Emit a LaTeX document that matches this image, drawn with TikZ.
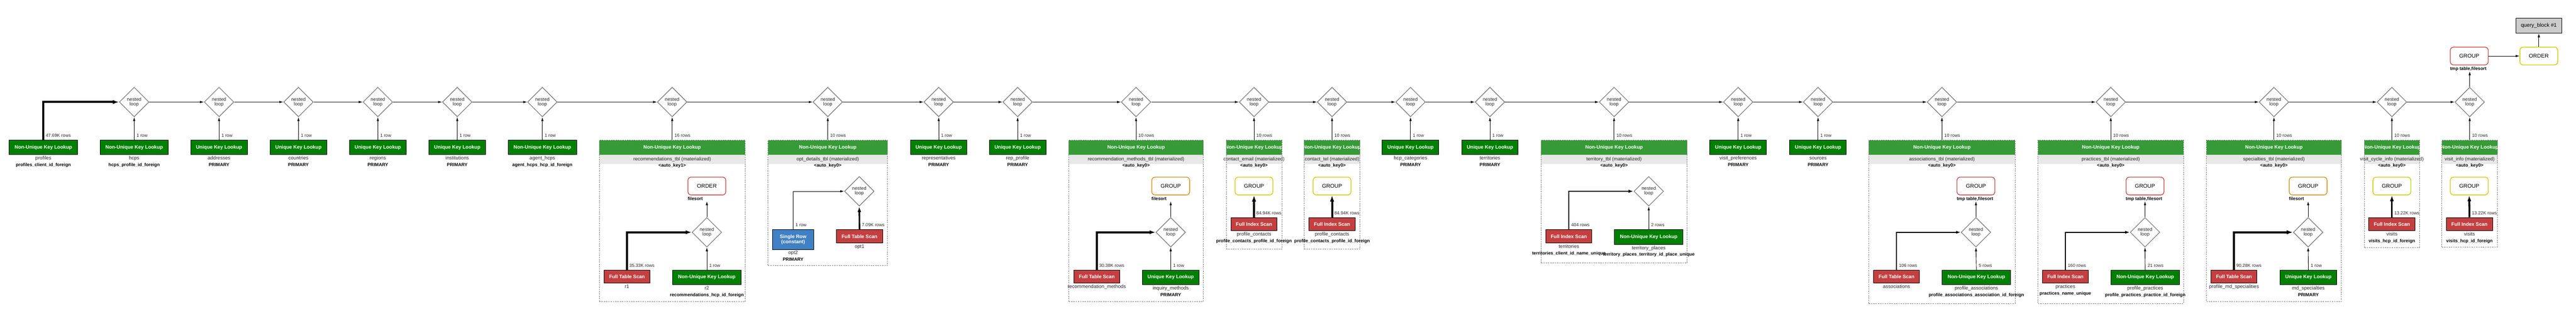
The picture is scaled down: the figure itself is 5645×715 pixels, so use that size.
\documentclass[tikz,border=0pt]{standalone}
\usepackage{fontspec}
\setmainfont{Liberation Sans}
\usetikzlibrary{positioning,%
                shapes.geometric,%
                arrows.meta}
\definecolor{okgreen}{RGB}{0,128,0}
\definecolor{hdrgreen}{RGB}{54,154,54}
\definecolor{badred}{RGB}{196,64,64}
\definecolor{constblue}{RGB}{64,128,196}
\definecolor{bandgray}{RGB}{232,232,232}
\definecolor{qbgray}{RGB}{204,204,204}
\definecolor{nlgray}{RGB}{128,128,128}
\definecolor{grpred}{RGB}{204,68,68}
\definecolor{grporange}{RGB}{214,140,20}
\definecolor{grpyellow}{RGB}{204,204,0}

\begin{document}
\begin{tikzpicture}[x=1pt,y=-1pt,
    nl/.style={diamond,aspect=1,draw=nlgray,line width=1.5pt,fill=white,
      minimum width=65pt,minimum height=65pt,inner sep=0pt,align=center,
      text=black!85,font=\fontsize{10.5}{10}\selectfont},
    op/.style={draw=black,line width=1pt,text=white,inner sep=0pt,
      minimum height=32pt,font=\fontsize{10.8}{12}\selectfont\bfseries},
    ukl/.style={op,fill=okgreen,minimum width=124pt},
    nukl/.style={op,fill=okgreen,minimum width=150pt},
    scan/.style={op,fill=badred,minimum width=101pt,minimum height=29pt},
    srow/.style={op,fill=constblue,minimum width=90pt,minimum height=43pt,align=center},
    grp/.style={draw=#1,line width=1.5pt,rounded corners=7pt,fill=white,
      minimum width=83pt,minimum height=39pt,inner sep=0pt,font=\fontsize{12}{12}\selectfont},
    qb/.style={draw=black,fill=qbgray,line width=1pt,minimum width=101pt,
      minimum height=33pt,inner sep=0pt,font=\fontsize{11.6}{12}\selectfont},
    hdr/.style={fill=hdrgreen,minimum height=32pt,inner sep=0pt,text=white,
      font=\fontsize{10.8}{12}\selectfont\bfseries},
    band/.style={fill=bandgray,minimum height=20pt,inner sep=0pt,text=black!85,
      font=\fontsize{10.7}{12}\selectfont},
    blk/.style={draw=black!50,dash pattern=on 3pt off 2pt,line width=0.8pt,inner sep=0pt},
    tname/.style={inner sep=0pt,text height=7.5pt,text depth=2.5pt,text=black!85,
      font=\fontsize{10.8}{12}\selectfont},
    kname/.style={inner sep=0pt,text height=7.5pt,text depth=2.5pt,
      font=\fontsize{9.9}{12}\selectfont\bfseries},
    rows/.style={anchor=south west,inner sep=0pt,text height=7pt,text depth=2pt,
      text=black!85,font=\fontsize{9.9}{12}\selectfont},
    arr/.style={-{Latex[length=7pt 1.5,width=4pt 1.2]},line width=1pt}]
\useasboundingbox (0,0) rectangle (5645,715);

\node[nl] (d1) at (294,224) {nested\\loop};
\node[nl] (d2) at (480,224) {nested\\loop};
\node[nl] (d3) at (654,224) {nested\\loop};
\node[nl] (d4) at (828,224) {nested\\loop};
\node[nl] (d5) at (1002,224) {nested\\loop};
\node[nl] (d6) at (1188.5,224) {nested\\loop};
\node[nl] (d7) at (1473,224) {nested\\loop};
\node[nl] (d8) at (1814,224) {nested\\loop};
\node[nl] (d9) at (2057,224) {nested\\loop};
\node[nl] (d10) at (2230,224) {nested\\loop};
\node[nl] (d11) at (2489.5,224) {nested\\loop};
\node[nl] (d12) at (2748,224) {nested\\loop};
\node[nl] (d13) at (2919,224) {nested\\loop};
\node[nl] (d14) at (3091,224) {nested\\loop};
\node[nl] (d15) at (3265,224) {nested\\loop};
\node[nl] (d16) at (3537,224) {nested\\loop};
\node[nl] (d17) at (3809,224) {nested\\loop};
\node[nl] (d18) at (3984,224) {nested\\loop};
\node[nl] (d19) at (4255.5,224) {nested\\loop};
\node[nl] (d20) at (4625.5,224) {nested\\loop};
\node[nl] (d21) at (4983,224) {nested\\loop};
\node[nl] (d22) at (5241.5,224) {nested\\loop};
\node[nl] (d23) at (5412,224) {nested\\loop};

\draw[arr] (d1.east) -- (d2.west);
\draw[arr] (d2.east) -- (d3.west);
\draw[arr] (d3.east) -- (d4.west);
\draw[arr] (d4.east) -- (d5.west);
\draw[arr] (d5.east) -- (d6.west);
\draw[arr] (d6.east) -- (d7.west);
\draw[arr] (d7.east) -- (d8.west);
\draw[arr] (d8.east) -- (d9.west);
\draw[arr] (d9.east) -- (d10.west);
\draw[arr] (d10.east) -- (d11.west);
\draw[arr] (d11.east) -- (d12.west);
\draw[arr] (d12.east) -- (d13.west);
\draw[arr] (d13.east) -- (d14.west);
\draw[arr] (d14.east) -- (d15.west);
\draw[arr] (d15.east) -- (d16.west);
\draw[arr] (d16.east) -- (d17.west);
\draw[arr] (d17.east) -- (d18.west);
\draw[arr] (d18.east) -- (d19.west);
\draw[arr] (d19.east) -- (d20.west);
\draw[arr] (d20.east) -- (d21.west);
\draw[arr] (d21.east) -- (d22.west);
\draw[arr] (d22.east) -- (d23.west);

\node[grp=grpred] (g0) at (5411,123) {GROUP};
\node[kname,anchor=north west] (g0L) at ([yshift=-3pt]g0.south west) {tmp table,filesort};
\node[grp=grpyellow] (o0) at (5563.5,123) {ORDER};
\node[qb] (qb) at (5563.5,56.5) {query\_block \#1};
\draw[arr] (d23.north) -- (d23.north |- g0L.south);
\draw[arr] (g0.east) -- (o0.west);
\draw[arr] (o0.north) -- (qb.south);

\node[nukl] (profiles) at (95,323.5) {Non-Unique Key Lookup};
\node[tname,below=3pt of profiles] (profilesT) {profiles};
\node[kname,below=4pt of profilesT] {profiles\_client\_id\_foreign};
\node[rows] at ([xshift=5pt,yshift=4pt]profiles.north) {47.69K rows};
\draw[arr,line width=4.5pt] (profiles.north) |- (d1.west);

\node[nukl] (hcps) at (294,323.5) {Non-Unique Key Lookup};
\node[tname,below=3pt of hcps] (hcpsT) {hcps};
\node[kname,below=4pt of hcpsT] {hcps\_profile\_id\_foreign};
\node[rows] at ([xshift=5pt,yshift=4pt]hcps.north) {1 row};
\draw[arr] (hcps.north) -- (d1.south);

\node[ukl] (addresses) at (480,323.5) {Unique Key Lookup};
\node[tname,below=3pt of addresses] (addressesT) {addresses};
\node[kname,below=4pt of addressesT] {PRIMARY};
\node[rows] at ([xshift=5pt,yshift=4pt]addresses.north) {1 row};
\draw[arr] (addresses.north) -- (d2.south);

\node[ukl] (countries) at (654,323.5) {Unique Key Lookup};
\node[tname,below=3pt of countries] (countriesT) {countries};
\node[kname,below=4pt of countriesT] {PRIMARY};
\node[rows] at ([xshift=5pt,yshift=4pt]countries.north) {1 row};
\draw[arr] (countries.north) -- (d3.south);

\node[ukl] (regions) at (828,323.5) {Unique Key Lookup};
\node[tname,below=3pt of regions] (regionsT) {regions};
\node[kname,below=4pt of regionsT] {PRIMARY};
\node[rows] at ([xshift=5pt,yshift=4pt]regions.north) {1 row};
\draw[arr] (regions.north) -- (d4.south);

\node[ukl] (institutions) at (1002,323.5) {Unique Key Lookup};
\node[tname,below=3pt of institutions] (institutionsT) {institutions};
\node[kname,below=4pt of institutionsT] {PRIMARY};
\node[rows] at ([xshift=5pt,yshift=4pt]institutions.north) {1 row};
\draw[arr] (institutions.north) -- (d5.south);

\node[nukl] (agenthcps) at (1188.5,323.5) {Non-Unique Key Lookup};
\node[tname,below=3pt of agenthcps] (agenthcpsT) {agent\_hcps};
\node[kname,below=4pt of agenthcpsT] {agent\_hcps\_hcp\_id\_foreign};
\node[rows] at ([xshift=5pt,yshift=4pt]agenthcps.north) {1 row};
\draw[arr] (agenthcps.north) -- (d6.south);

\node[hdr,minimum width=320pt] (h7) at (1473,324) {Non-Unique Key Lookup};
\node[band,minimum width=320pt] (m7) at (1473,350) {recommendations\_tbl (materialized)};
\node[kname] at (1473,364) {<auto\_key1>};
\node[blk,minimum width=320pt,minimum height=354pt] (b7) at (1473,485) {};
\node[grp=grpred] (g7) at (1549,408.5) {ORDER};
\node[kname,anchor=north west] (g7L) at ([yshift=-3pt]g7.south west) {filesort};
\node[nl] (n7) at (1549,510) {nested\\loop};
\node[scan] (r1) at (1374,607.5) {Full Table Scan};
\node[tname,below=3pt of r1] {r1};
\node[nukl] (r2) at (1549,609) {Non-Unique Key Lookup};
\node[tname,below=3pt of r2] (r2T) {r2};
\node[kname,below=4pt of r2T] {recommendations\_hcp\_id\_foreign};
\node[rows] at ([xshift=5pt,yshift=4pt]r1.north) {35.33K rows};
\node[rows] at ([xshift=5pt,yshift=4pt]r2.north) {1 row};
\node[rows] at ([xshift=5pt,yshift=4pt]b7.north) {16 rows};
\draw[arr,line width=4pt] (r1.north) |- (n7.west);
\draw[arr] (r2.north) -- (n7.south);
\draw[arr] (n7.north) -- (n7.north |- g7L.south);
\draw[arr] (b7.north) -- (d7.south);

\node[hdr,minimum width=262pt] (h8) at (1814,324) {Non-Unique Key Lookup};
\node[band,minimum width=262pt] (m8) at (1814,350) {opt\_details\_tbl (materialized)};
\node[kname] at (1814,364) {<auto\_key0>};
\node[blk,minimum width=262pt,minimum height=275pt] (b8) at (1814,445.5) {};
\node[nl] (n8) at (1883,420) {nested\\loop};
\node[srow] (opt2) at (1738,526) {Single Row\\(constant)};
\node[tname,below=3pt of opt2] (opt2T) {opt2};
\node[kname,below=4pt of opt2T] {PRIMARY};
\node[scan] (opt1) at (1883.5,519) {Full Table Scan};
\node[tname,below=3pt of opt1] {opt1};
\node[rows] at ([xshift=5pt,yshift=4pt]opt2.north) {1 row};
\node[rows] at ([xshift=5pt,yshift=4pt]opt1.north) {7.09K rows};
\node[rows] at ([xshift=5pt,yshift=4pt]b8.north) {10 rows};
\draw[arr] (opt2.north) |- (n8.west);
\draw[arr,line width=3.5pt] (opt1.north) -- (n8.south);
\draw[arr] (b8.north) -- (d8.south);

\node[ukl] (reps) at (2057,323.5) {Unique Key Lookup};
\node[tname,below=3pt of reps] (repsT) {representatives};
\node[kname,below=4pt of repsT] {PRIMARY};
\node[rows] at ([xshift=5pt,yshift=4pt]reps.north) {1 row};
\draw[arr] (reps.north) -- (d9.south);

\node[ukl] (repprofile) at (2230,323.5) {Unique Key Lookup};
\node[tname,below=3pt of repprofile] (repprofileT) {rep\_profile};
\node[kname,below=4pt of repprofileT] {PRIMARY};
\node[rows] at ([xshift=5pt,yshift=4pt]repprofile.north) {1 row};
\draw[arr] (repprofile.north) -- (d10.south);

\node[hdr,minimum width=295pt] (h11) at (2489.5,324) {Non-Unique Key Lookup};
\node[band,minimum width=295pt] (m11) at (2489.5,350) {recommendation\_methods\_tbl (materialized)};
\node[kname] at (2489.5,364) {<auto\_key0>};
\node[blk,minimum width=295pt,minimum height=354pt] (b11) at (2489.5,485) {};
\node[grp=grporange] (g11) at (2565.5,408.5) {GROUP};
\node[kname,anchor=north west] (g11L) at ([yshift=-3pt]g11.south west) {filesort};
\node[nl] (n11) at (2565.5,510) {nested\\loop};
\node[scan] (recm) at (2403.5,607.5) {Full Table Scan};
\node[tname,below=3pt of recm] {recommendation\_methods};
\node[ukl] (inqm) at (2565.5,609) {Unique Key Lookup};
\node[tname,below=3pt of inqm] (inqmT) {inquiry\_methods};
\node[kname,below=4pt of inqmT] {PRIMARY};
\node[rows] at ([xshift=5pt,yshift=4pt]recm.north) {30.38K rows};
\node[rows] at ([xshift=5pt,yshift=4pt]inqm.north) {1 row};
\node[rows] at ([xshift=5pt,yshift=4pt]b11.north) {10 rows};
\draw[arr,line width=4pt] (recm.north) |- (n11.west);
\draw[arr] (inqm.north) -- (n11.south);
\draw[arr] (n11.north) -- (n11.north |- g11L.south);
\draw[arr] (b11.north) -- (d11.south);

\node[hdr,minimum width=122pt] (h12) at (2748,324) {};
\begin{scope}
\clip (h12.north west) rectangle (h12.south east);
\node[hdr,fill=none] at (h12) {Non-Unique Key Lookup};
\end{scope}
\node[band,minimum width=122pt] (m12) at (2748,350) {};
\node[band,fill=none] at (m12) {contact\_email (materialized)};
\node[kname] at (2748,364) {<auto\_key0>};
\node[blk,minimum width=122pt,minimum height=239pt] (b12) at (2748,427.5) {};
\node[grp=grpyellow] (g12) at (2748,408.5) {GROUP};
\node[scan] (pc12) at (2748,492) {Full Index Scan};
\node[tname,below=3pt of pc12] (pc12T) {profile\_contacts};
\node[kname,below=4pt of pc12T] {profile\_contacts\_profile\_id\_foreign};
\node[rows] at ([xshift=5pt,yshift=4pt]pc12.north) {84.94K rows};
\node[rows] at ([xshift=5pt,yshift=4pt]b12.north) {10 rows};
\draw[arr,line width=4.5pt] (pc12.north) -- (g12.south);
\draw[arr] (b12.north) -- (d12.south);

\node[hdr,minimum width=122pt] (h13) at (2919,324) {};
\begin{scope}
\clip (h13.north west) rectangle (h13.south east);
\node[hdr,fill=none] at (h13) {Non-Unique Key Lookup};
\end{scope}
\node[band,minimum width=122pt] (m13) at (2919,350) {};
\node[band,fill=none] at (m13) {contact\_tel (materialized)};
\node[kname] at (2919,364) {<auto\_key0>};
\node[blk,minimum width=122pt,minimum height=239pt] (b13) at (2919,427.5) {};
\node[grp=grpyellow] (g13) at (2919,408.5) {GROUP};
\node[scan] (pc13) at (2919,492) {Full Index Scan};
\node[tname,below=3pt of pc13] (pc13T) {profile\_contacts};
\node[kname,below=4pt of pc13T] {profile\_contacts\_profile\_id\_foreign};
\node[rows] at ([xshift=5pt,yshift=4pt]pc13.north) {84.94K rows};
\node[rows] at ([xshift=5pt,yshift=4pt]b13.north) {10 rows};
\draw[arr,line width=4.5pt] (pc13.north) -- (g13.south);
\draw[arr] (b13.north) -- (d13.south);

\node[ukl] (hcpcat) at (3091,323.5) {Unique Key Lookup};
\node[tname,below=3pt of hcpcat] (hcpcatT) {hcp\_categories};
\node[kname,below=4pt of hcpcatT] {PRIMARY};
\node[rows] at ([xshift=5pt,yshift=4pt]hcpcat.north) {1 row};
\draw[arr] (hcpcat.north) -- (d14.south);

\node[ukl] (terr) at (3265,323.5) {Unique Key Lookup};
\node[tname,below=3pt of terr] (terrT) {territories};
\node[kname,below=4pt of terrT] {PRIMARY};
\node[rows] at ([xshift=5pt,yshift=4pt]terr.north) {1 row};
\draw[arr] (terr.north) -- (d15.south);

\node[hdr,minimum width=320pt] (h16) at (3537,324) {Non-Unique Key Lookup};
\node[band,minimum width=320pt] (m16) at (3537,350) {territory\_tbl (materialized)};
\node[kname] at (3537,364) {<auto\_key0>};
\node[blk,minimum width=320pt,minimum height=269pt] (b16) at (3537,442.5) {};
\node[nl] (n16) at (3613,420) {nested\\loop};
\node[scan] (terrs) at (3438,519) {Full Index Scan};
\node[tname,below=3pt of terrs] (terrsT) {territories};
\node[kname,below=4pt of terrsT] {territories\_client\_id\_name\_unique};
\node[nukl] (tplaces) at (3613,520.5) {Non-Unique Key Lookup};
\node[tname,below=3pt of tplaces] (tplacesT) {territory\_places};
\node[kname,below=4pt of tplacesT] {territory\_places\_territory\_id\_place\_unique};
\node[rows] at ([xshift=5pt,yshift=4pt]terrs.north) {404 rows};
\node[rows] at ([xshift=5pt,yshift=4pt]tplaces.north) {2 rows};
\node[rows] at ([xshift=5pt,yshift=4pt]b16.north) {10 rows};
\draw[arr,line width=2.5pt] (terrs.north) |- (n16.west);
\draw[arr] (tplaces.north) -- (n16.south);
\draw[arr] (b16.north) -- (d16.south);

\node[ukl] (visitpref) at (3809,323.5) {Unique Key Lookup};
\node[tname,below=3pt of visitpref] (visitprefT) {visit\_preferences};
\node[kname,below=4pt of visitprefT] {PRIMARY};
\node[rows] at ([xshift=5pt,yshift=4pt]visitpref.north) {1 row};
\draw[arr] (visitpref.north) -- (d17.south);

\node[ukl] (sources) at (3984,323.5) {Unique Key Lookup};
\node[tname,below=3pt of sources] (sourcesT) {sources};
\node[kname,below=4pt of sourcesT] {PRIMARY};
\node[rows] at ([xshift=5pt,yshift=4pt]sources.north) {1 row};
\draw[arr] (sources.north) -- (d18.south);

\node[hdr,minimum width=321pt] (h19) at (4255.5,324) {Non-Unique Key Lookup};
\node[band,minimum width=321pt] (m19) at (4255.5,350) {associations\_tbl (materialized)};
\node[kname] at (4255.5,364) {<auto\_key0>};
\node[blk,minimum width=321pt,minimum height=358pt] (b19) at (4255.5,487) {};
\node[grp=grpred] (g19) at (4330,408.5) {GROUP};
\node[kname,anchor=north west] (g19L) at ([yshift=-3pt]g19.south west) {tmp table,filesort};
\node[nl] (n19) at (4330,510) {nested\\loop};
\node[scan] (assoc) at (4156,607.5) {Full Table Scan};
\node[tname,below=3pt of assoc] {associations};
\node[nukl] (passoc) at (4331,609) {Non-Unique Key Lookup};
\node[tname,below=3pt of passoc] (passocT) {profile\_associations};
\node[kname,below=4pt of passocT] {profile\_associations\_association\_id\_foreign};
\node[rows] at ([xshift=5pt,yshift=4pt]assoc.north) {106 rows};
\node[rows] at ([xshift=5pt,yshift=4pt]passoc.north) {5 rows};
\node[rows] at ([xshift=5pt,yshift=4pt]b19.north) {10 rows};
\draw[arr,line width=2pt] (assoc.north) |- (n19.west);
\draw[arr] (passoc.north) -- (n19.south);
\draw[arr] (n19.north) -- (n19.north |- g19L.south);
\draw[arr] (b19.north) -- (d19.south);

\node[hdr,minimum width=319pt] (h20) at (4625.5,324) {Non-Unique Key Lookup};
\node[band,minimum width=319pt] (m20) at (4625.5,350) {practices\_tbl (materialized)};
\node[kname] at (4625.5,364) {<auto\_key0>};
\node[blk,minimum width=319pt,minimum height=358pt] (b20) at (4625.5,487) {};
\node[grp=grpred] (g20) at (4700.5,408.5) {GROUP};
\node[kname,anchor=north west] (g20L) at ([yshift=-3pt]g20.south west) {tmp table,filesort};
\node[nl] (n20) at (4700.5,510) {nested\\loop};
\node[scan] (pract) at (4526,607.5) {Full Index Scan};
\node[tname,below=3pt of pract] (practT) {practices};
\node[kname,below=4pt of practT] {practices\_name\_unique};
\node[nukl] (ppract) at (4701,609) {Non-Unique Key Lookup};
\node[tname,below=3pt of ppract] (ppractT) {profile\_practices};
\node[kname,below=4pt of ppractT] {profile\_practices\_practice\_id\_foreign};
\node[rows] at ([xshift=5pt,yshift=4pt]pract.north) {160 rows};
\node[rows] at ([xshift=5pt,yshift=4pt]ppract.north) {21 rows};
\node[rows] at ([xshift=5pt,yshift=4pt]b20.north) {10 rows};
\draw[arr,line width=2pt] (pract.north) |- (n20.west);
\draw[arr] (ppract.north) -- (n20.south);
\draw[arr] (n20.north) -- (n20.north |- g20L.south);
\draw[arr] (b20.north) -- (d20.south);

\node[hdr,minimum width=296pt] (h21) at (4983,324) {Non-Unique Key Lookup};
\node[band,minimum width=296pt] (m21) at (4983,350) {specialties\_tbl (materialized)};
\node[kname] at (4983,364) {<auto\_key0>};
\node[blk,minimum width=296pt,minimum height=354pt] (b21) at (4983,485) {};
\node[grp=grporange] (g21) at (5058,408.5) {GROUP};
\node[kname,anchor=north west] (g21L) at ([yshift=-3pt]g21.south west) {filesort};
\node[nl] (n21) at (5058,510) {nested\\loop};
\node[scan] (pmds) at (4895.5,607.5) {Full Table Scan};
\node[tname,below=3pt of pmds] {profile\_md\_specialities};
\node[ukl] (mds) at (5058.5,609) {Unique Key Lookup};
\node[tname,below=3pt of mds] (mdsT) {md\_specialties};
\node[kname,below=4pt of mdsT] {PRIMARY};
\node[rows] at ([xshift=5pt,yshift=4pt]pmds.north) {90.28K rows};
\node[rows] at ([xshift=5pt,yshift=4pt]mds.north) {1 row};
\node[rows] at ([xshift=5pt,yshift=4pt]b21.north) {10 rows};
\draw[arr,line width=4.5pt] (pmds.north) |- (n21.west);
\draw[arr] (mds.north) -- (n21.south);
\draw[arr] (n21.north) -- (n21.north |- g21L.south);
\draw[arr] (b21.north) -- (d21.south);

\node[hdr,minimum width=121pt] (h22) at (5241.5,324) {};
\begin{scope}
\clip (h22.north west) rectangle (h22.south east);
\node[hdr,fill=none] at (h22) {Non-Unique Key Lookup};
\end{scope}
\node[band,minimum width=121pt] (m22) at (5241.5,350) {};
\node[band,fill=none] at (m22) {visit\_cycle\_info (materialized)};
\node[kname] at (5241.5,364) {<auto\_key0>};
\node[blk,minimum width=121pt,minimum height=235pt] (b22) at (5241.5,425.5) {};
\node[grp=grpyellow] (g22) at (5241.5,408.5) {GROUP};
\node[scan] (visits22) at (5241.5,492) {Full Index Scan};
\node[tname,below=3pt of visits22] (visits22T) {visits};
\node[kname,below=4pt of visits22T] {visits\_hcp\_id\_foreign};
\node[rows] at ([xshift=5pt,yshift=4pt]visits22.north) {13.22K rows};
\node[rows] at ([xshift=5pt,yshift=4pt]b22.north) {10 rows};
\draw[arr,line width=4pt] (visits22.north) -- (g22.south);
\draw[arr] (b22.north) -- (d22.south);

\node[hdr,minimum width=122pt] (h23) at (5412,324) {};
\begin{scope}
\clip (h23.north west) rectangle (h23.south east);
\node[hdr,fill=none] at (h23) {Non-Unique Key Lookup};
\end{scope}
\node[band,minimum width=122pt] (m23) at (5412,350) {};
\node[band,fill=none] at (m23) {visit\_info (materialized)};
\node[kname] at (5412,364) {<auto\_key0>};
\node[blk,minimum width=122pt,minimum height=234pt] (b23) at (5412,425) {};
\node[grp=grpyellow] (g23) at (5411,408.5) {GROUP};
\node[scan] (visits23) at (5411.5,492) {Full Index Scan};
\node[tname,below=3pt of visits23] (visits23T) {visits};
\node[kname,below=4pt of visits23T] {visits\_hcp\_id\_foreign};
\node[rows] at ([xshift=5pt,yshift=4pt]visits23.north) {13.22K rows};
\node[rows] at ([xshift=5pt,yshift=4pt]b23.north) {10 rows};
\draw[arr,line width=4pt] (visits23.north) -- (g23.south);
\draw[arr] (b23.north) -- (d23.south);
\end{tikzpicture}
\end{document}
